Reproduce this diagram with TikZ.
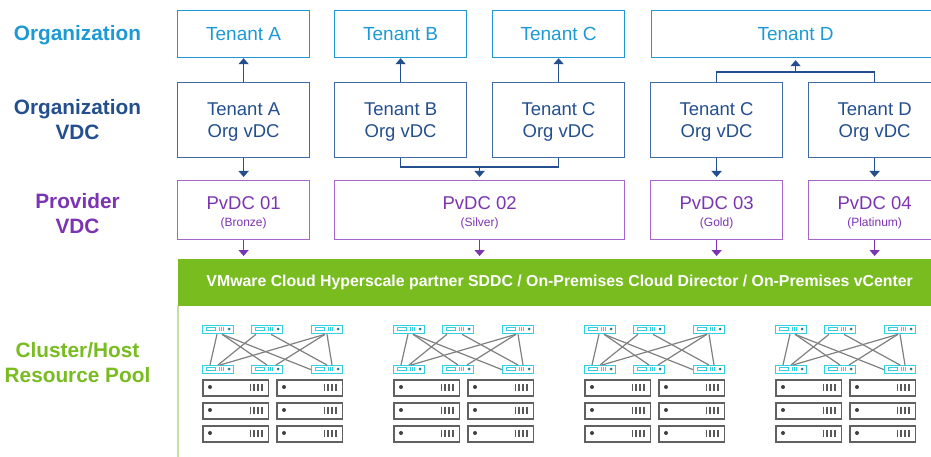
\documentclass[tikz,border=0pt]{standalone}
\usepackage{fontspec}
\setmainfont{Liberation Sans}
\usetikzlibrary{arrows.meta,calc}
\definecolor{orgc}{HTML}{1D9AD6}
\definecolor{navy}{HTML}{234F8E}
\definecolor{navyline}{HTML}{3F6AA6}
\definecolor{purp}{HTML}{7B34B2}
\definecolor{purpline}{HTML}{A566CC}
\definecolor{grn}{HTML}{78BC20}
\definecolor{cyn}{HTML}{35CFE2}
\definecolor{srv}{HTML}{606060}
\newcommand{\lowerA}{\rule{0pt}{16.5pt}}
\newcommand{\lowerB}{\rule{0pt}{17.5pt}}
\newcommand{\tiplab}[1]{{\fontsize{12}{14}\selectfont #1}}
\tikzset{
 box/.style={draw,anchor=north west,inner sep=0pt,line width=1.2pt,align=center},
 orgbox/.style={box,draw=orgc,text=orgc,font=\fontsize{19}{22}\selectfont},
 vdcbox/.style={box,draw=navyline,text=navy,font=\fontsize{18.5}{22}\selectfont},
 pvdcbox/.style={box,draw=purpline,text=purp,font=\fontsize{18.5}{20}\selectfont},
 rowlabel/.style={inner sep=0pt,align=center,font=\fontsize{20.8}{25}\selectfont\bfseries},
 navyarrow/.style={draw=navy,line width=1.5pt,-{Triangle[width=10pt,length=6pt]}},
 navyline/.style={draw=navy,line width=1.5pt},
 purparrow/.style={draw=purp,line width=1.5pt,-{Triangle[width=10pt,length=6pt]}},
 swbox/.style={draw=cyn,line width=1.3pt,fill=white,anchor=north west,inner sep=0pt,minimum width=31pt,minimum height=8pt},
 srvbox/.style={draw=srv,line width=1.8pt,fill=white,anchor=north west,inner sep=0pt,minimum width=65.5pt,minimum height=16pt},
 link/.style={draw=black!50,line width=1.2pt},
}
\begin{document}
\begin{tikzpicture}[x=1pt,y=-1pt]
\useasboundingbox (0,0) rectangle (931,457);
\clip (0,0) rectangle (931,457);
\fill[white] (0,0) rectangle (931,457);
% row labels
\node[rowlabel,text=orgc] (l1) at (77.5,35) {Organization};
\node[rowlabel,text=navy] (l2) at (77.5,120) {Organization\\VDC};
\node[rowlabel,text=purp] (l3) at (77.5,214) {Provider\\VDC};
\node[rowlabel,text=grn] (l4) at (77.5,363) {Cluster/Host\\Resource Pool};
% tenants
\node[orgbox,minimum width=132pt,minimum height=47pt] (ta) at (177,10) {Tenant A};
\node[orgbox,minimum width=132pt,minimum height=47pt] (tb) at (334,10) {Tenant B};
\node[orgbox,minimum width=132pt,minimum height=47pt] (tc) at (492,10) {Tenant C};
\node[orgbox,minimum width=288pt,minimum height=47pt] (td) at (651,10) {Tenant D};
% org vdc
\node[vdcbox,minimum width=132pt,minimum height=75pt] (va) at (177,82) {\lowerA Tenant A\\Org vDC};
\node[vdcbox,minimum width=132pt,minimum height=75pt] (vb) at (334,82) {\lowerA Tenant B\\Org vDC};
\node[vdcbox,minimum width=132pt,minimum height=75pt] (vc) at (492,82) {\lowerA Tenant C\\Org vDC};
\node[vdcbox,minimum width=132pt,minimum height=75pt] (vc2) at (650,82) {\lowerA Tenant C\\Org vDC};
\node[vdcbox,minimum width=132pt,minimum height=75pt] (vd) at (808,82) {\lowerA Tenant D\\Org vDC};
% pvdc
\node[pvdcbox,minimum width=132pt,minimum height=59pt] (p1) at (177,180) {\lowerB PvDC 01\\[-3pt]\tiplab{(Bronze)}};
\node[pvdcbox,minimum width=290pt,minimum height=59pt] (p2) at (334,180) {\lowerB PvDC 02\\[-3pt]\tiplab{(Silver)}};
\node[pvdcbox,minimum width=132pt,minimum height=59pt] (p3) at (650,180) {\lowerB PvDC 03\\[-3pt]\tiplab{(Gold)}};
\node[pvdcbox,minimum width=132pt,minimum height=59pt] (p4) at (808,180) {\lowerB PvDC 04\\[-3pt]\tiplab{(Platinum)}};
% green band
\node[fill=grn,anchor=north west,inner sep=0pt,minimum width=753pt,minimum height=47pt,text=white,font=\fontsize{15.85}{18}\selectfont\bfseries] (band) at (178,259) {\hspace*{10pt}VMware Cloud Hyperscale partner SDDC / On-Premises Cloud Director / On-Premises vCenter};
\coordinate (railend) at (178,457);
\draw[grn!45,line width=1.2pt] (band.south west) -- (railend);
% connectors: org vdc to tenant
\draw[navyarrow] (va.north) -- (ta.south);
\draw[navyarrow] (vb.north) -- (tb.south);
\draw[navyarrow] (vc.north) -- (tc.south);
\coordinate (dmerge) at ($(vc2.north)!0.5!(vd.north)+(0,-10)$);
\draw[navyline] (vc2.north) |- (dmerge) -| (vd.north);
\draw[navyarrow,shorten >=2pt] (dmerge) -- (dmerge |- td.south);
% connectors: vdc to pvdc
\draw[navyarrow,shorten >=3pt] (va.south) -- (p1.north);
\coordinate (bcmerge) at ($(vb.south)!0.5!(vc.south)+(0,9)$);
\draw[navyline] (vb.south) |- (bcmerge) -| (vc.south);
\draw[navyarrow,shorten >=3pt] (bcmerge) -- (bcmerge |- p2.north);
\draw[navyarrow,shorten >=3pt] (vc2.south) -- (p3.north);
\draw[navyarrow,shorten >=3pt] (vd.south) -- (p4.north);
% connectors: pvdc to band
\draw[purparrow,shorten >=3pt] (p1.south) -- (p1.south |- band.north);
\draw[purparrow,shorten >=3pt] (p2.south) -- (p2.south |- band.north);
\draw[purparrow,shorten >=3pt] (p3.south) -- (p3.south |- band.north);
\draw[purparrow,shorten >=3pt] (p4.south) -- (p4.south |- band.north);
% racks
\foreach \g/\ox in {a/0,b/191,c/382,d/573}{
 \begin{scope}[shift={(\ox pt,0)}]
  \foreach \n/\sx/\sy in {t1/202/325,t2/251/325,t3/311/325,b1/202/365,b2/251/365,b3/311/365}{
   \node[swbox] (\g\n) at (\sx,\sy) {};
   \draw[cyn,line width=.8pt] (\sx+4,\sy+2.5) rectangle (\sx+13,\sy+5.5);
   \foreach \k in {17.5,19.5,21.5}{\draw[cyn,line width=1pt] (\sx+\k,\sy+2) -- (\sx+\k,\sy+6);}
   \fill[cyn!60!black] (\sx+27,\sy+4) circle (1.5pt);
  }
  \draw[link] ($(\g t1.south west)+(15,0)$) -- ($(\g b1.north west)+(8,0)$);
  \draw[link] ($(\g t1.south west)+(20,0)$) -- ($(\g b2.north west)+(16,0)$);
  \draw[link] ($(\g t1.south west)+(20,0)$) -- ($(\g b3.west)$);
  \draw[link] ($(\g t2.south west)+(5,0)$) -- ($(\g b1.north west)+(16,0)$);
  \draw[link] ($(\g t2.south west)+(20,0)$) -- ($(\g b3.north west)+(16,0)$);
  \draw[link] ($(\g t3.south west)+(14,0)$) -- ($(\g b1.north west)+(18,0)$);
  \draw[link] ($(\g t3.south west)+(14,0)$) -- ($(\g b2.north west)+(25,0)$);
  \draw[link] ($(\g t3.south west)+(16,0)$) -- ($(\g b3.north west)+(21,0)$);
  \foreach \n/\sx/\sy in {s1/202/379,s2/276/379,s3/202/402,s4/276/402,s5/202/425,s6/276/425}{
   \node[srvbox] (\g\n) at (\sx,\sy) {};
   \fill[black!75] (\sx+8,\sy+8) circle (2pt);
   \foreach \k in {48.5,52.3,56.1,59.9}{\draw[black!65,line width=1.8pt] (\sx+\k,\sy+4.5) -- (\sx+\k,\sy+12);}
  }
 \end{scope}
}
\end{tikzpicture}
\end{document}
